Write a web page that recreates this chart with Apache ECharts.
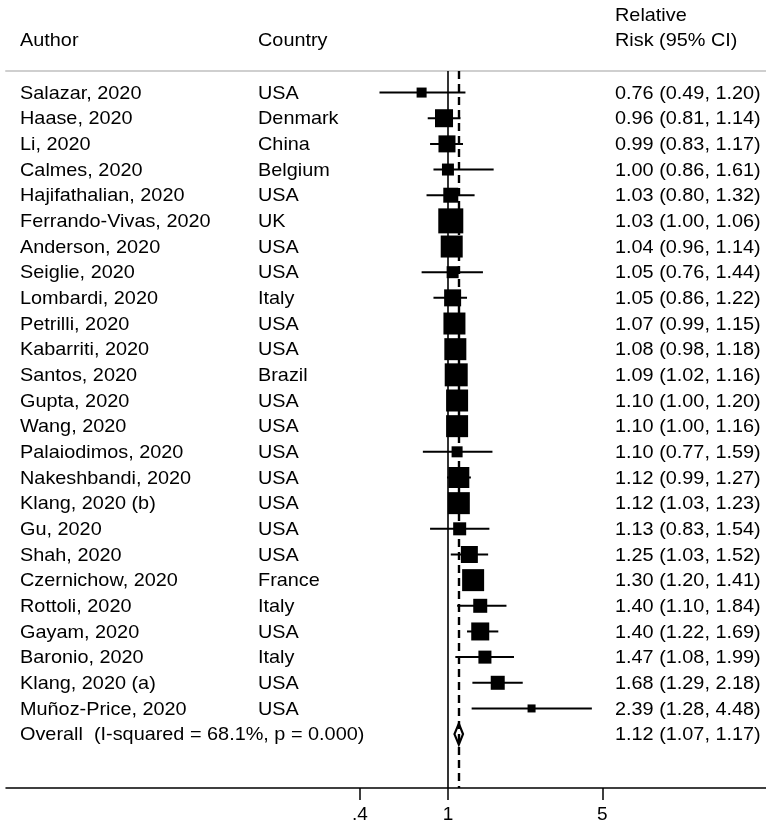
<!DOCTYPE html>
<html><head><meta charset="utf-8">
<script src="https://cdn.jsdelivr.net/npm/echarts@6/dist/echarts.min.js"></script>
<style>html,body{margin:0;padding:0;background:#fff}#c{width:766px;height:832px}</style>
</head><body><div id="c"></div>
<script>
const authors = ['Salazar, 2020','Haase, 2020','Li, 2020','Calmes, 2020','Hajifathalian, 2020','Ferrando-Vivas, 2020','Anderson, 2020','Seiglie, 2020','Lombardi, 2020','Petrilli, 2020','Kabarriti, 2020','Santos, 2020','Gupta, 2020','Wang, 2020','Palaiodimos, 2020','Nakeshbandi, 2020','Klang, 2020 (b)','Gu, 2020','Shah, 2020','Czernichow, 2020','Rottoli, 2020','Gayam, 2020','Baronio, 2020','Klang, 2020 (a)','Muñoz-Price, 2020'];
const countries = ['USA','Denmark','China','Belgium','USA','UK','USA','USA','Italy','USA','USA','Brazil','USA','USA','USA','USA','USA','USA','USA','France','Italy','USA','Italy','USA','USA'];
const rr    = [0.76,0.96,0.99,1.00,1.03,1.03,1.04,1.05,1.05,1.07,1.08,1.09,1.10,1.10,1.10,1.12,1.12,1.13,1.25,1.30,1.40,1.40,1.47,1.68,2.39];
const lower = [0.49,0.81,0.83,0.86,0.80,1.00,0.96,0.76,0.86,0.99,0.98,1.02,1.00,1.00,0.77,0.99,1.03,0.83,1.03,1.20,1.10,1.22,1.08,1.29,1.28];
const upper = [1.20,1.14,1.17,1.61,1.32,1.06,1.14,1.44,1.22,1.15,1.18,1.16,1.20,1.16,1.59,1.27,1.23,1.54,1.52,1.41,1.84,1.69,1.99,2.18,4.48];
const weights = [1.25,4.04,3.60,1.79,2.80,7.79,6.03,1.79,3.60,6.03,6.03,6.59,6.03,6.03,1.51,5.49,6.03,2.11,3.60,6.03,2.44,4.04,2.11,2.44,0.80];
const overallLabel = 'Overall  (I-squared = 68.1%, p = 0.000)';
const overallRR = [1.12, 1.07, 1.17];
const tickValues = [0.4, 1, 5];
const tickLabels = ['.4', '1', '5'];
const headers = ['Author', 'Country', 'Relative', 'Risk (95% CI)'];

const FONT = '19px "Liberation Sans", Arial, sans-serif';
const SX = 1.045;
const fmt = (e, l, h) => e.toFixed(2) + ' (' + l.toFixed(2) + ', ' + h.toFixed(2) + ')';
const nStudies = authors.length;

const textRows = [];
for (let i = 0; i < nStudies; i++) {
  textRows.push([1, i, authors[i], countries[i], fmt(rr[i], lower[i], upper[i])]);
}
textRows.push([1, nStudies, overallLabel, '', fmt(overallRR[0], overallRR[1], overallRR[2])]);

const ciData = rr.map((v, i) => [lower[i], upper[i], i]);
const sqData = rr.map((v, i) => [v, i, weights[i]]);

const chart = echarts.init(document.getElementById('c'), null, {renderer: 'canvas'});
const xBase = {type: 'log', min: 0.01, max: 27.5, logBase: 10};
const hdr = (x, y, t) => ({type: 'text', x: x, y: y, scaleX: SX, style: {text: t, font: FONT, fill: '#000', align: 'left', verticalAlign: 'middle'}});
chart.setOption({
  animation: false,
  backgroundColor: '#fff',
  grid: {left: 6, right: 0, top: 71, bottom: 44, containLabel: false},
  xAxis: [
    Object.assign({}, xBase, {
      position: 'bottom',
      axisLine: {show: true, onZero: false, lineStyle: {color: '#000', width: 1.5}},
      axisTick: {show: true, length: 12, inside: false, customValues: tickValues, lineStyle: {color: '#000', width: 1.5}},
      axisLabel: {show: true, customValues: tickValues, margin: 17, color: '#000', fontSize: 19,
        fontFamily: '"Liberation Sans", Arial, sans-serif',
        formatter: function (v) {
          let best = 0, bd = Infinity;
          tickValues.forEach((t, k) => { const d = Math.abs(Math.log(t) - Math.log(v)); if (d < bd) { bd = d; best = k; } });
          return tickLabels[best];
        }},
      splitLine: {show: false}, minorTick: {show: false}, minorSplitLine: {show: false}
    }),
    Object.assign({}, xBase, {
      position: 'top',
      axisLine: {show: true, onZero: false, lineStyle: {color: '#cfcfcf', width: 2}},
      axisTick: {show: false}, axisLabel: {show: false}, splitLine: {show: false}
    })
  ],
  yAxis: {type: 'value', inverse: true, min: -0.84, max: 27.1, show: false, splitLine: {show: false}},
  graphic: [
    hdr(20, 41, headers[0]),
    hdr(258, 41, headers[1]),
    hdr(615, 16, headers[2]),
    hdr(615, 41, headers[3])
  ],
  series: [
    {
      type: 'scatter', data: [], z: 1, silent: true,
      markLine: {
        silent: true, symbol: ['none', 'none'], label: {show: false},
        data: [
          {xAxis: 1, lineStyle: {color: '#000', width: 1.6, type: 'solid'}},
          {xAxis: overallRR[0], lineStyle: {color: '#000', width: 2.4, type: [8, 5]}}
        ]
      }
    },
    {
      type: 'custom', z: 2, silent: true, data: ciData, encode: {x: [0, 1], y: 2},
      renderItem: function (params, api) {
        const a = api.coord([api.value(0), api.value(2)]);
        const b = api.coord([api.value(1), api.value(2)]);
        return {type: 'line', shape: {x1: a[0], y1: a[1], x2: b[0], y2: b[1]}, style: {stroke: '#000', lineWidth: 2}};
      }
    },
    {
      type: 'scatter', z: 3, silent: true, data: sqData, symbol: 'rect',
      symbolSize: function (v) { return Math.sqrt(v[2]) * 8.96; },
      itemStyle: {color: '#000', opacity: 1}
    },
    {
      type: 'custom', z: 4, silent: true, data: [[overallRR[0], overallRR[1], overallRR[2], nStudies]],
      encode: {x: [0, 1, 2], y: 3},
      renderItem: function (params, api) {
        const r = api.value(3);
        const c = api.coord([api.value(0), r]);
        const l = api.coord([api.value(1), r]);
        const h = api.coord([api.value(2), r]);
        const hh = 10.5;
        return {type: 'polygon', shape: {points: [[l[0], c[1]], [c[0], c[1] - hh], [h[0], c[1]], [c[0], c[1] + hh]]},
          style: {fill: '#fff', stroke: '#000', lineWidth: 2.2}};
      }
    },
    {
      type: 'custom', z: 5, silent: true, data: textRows, encode: {x: 0, y: 1},
      renderItem: function (params, api) {
        const i = params.dataIndex;
        const row = textRows[i];
        const y = api.coord([1, row[1]])[1] + 1;
        const mk = (x, t) => ({type: 'text', x: x, y: y, scaleX: SX, style: {text: t, font: FONT, fill: '#000', align: 'left', verticalAlign: 'middle'}});
        return {type: 'group', children: [mk(20, row[2]), mk(258, row[3]), mk(615, row[4])]};
      }
    }
  ]
});
</script></body></html>
